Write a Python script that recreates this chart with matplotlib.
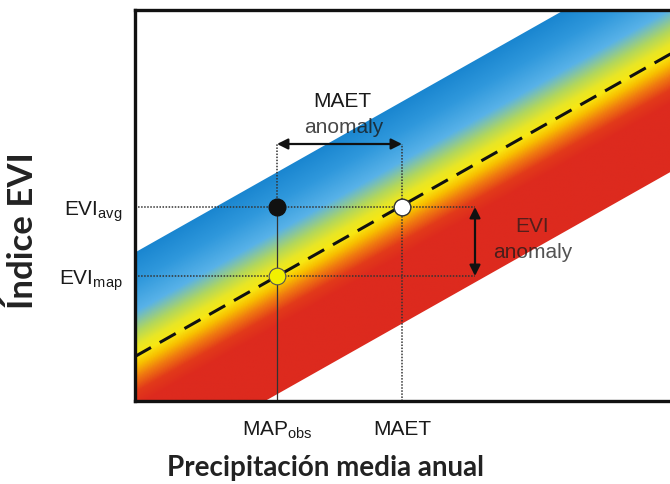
import numpy as np
import matplotlib.pyplot as plt
from matplotlib.colors import LinearSegmentedColormap
from matplotlib.patches import Polygon

# =====================================
# Datos del esquema (unidades arbitrarias del gráfico)
# =====================================

x_max, y_max = 565, 391

pendiente = 0.565
intercepto_medio = 44.5        # recta MAET (línea discontinua)
desplaz_superior = 104         # borde superior de la banda
desplaz_inferior = -118        # borde inferior de la banda

map_obs = 142
maet = 267
evi_avg = 194
evi_map = 125

nivel_flecha_maet = 257
x_flecha_evi = 340

x_ticks = [map_obs, maet]
x_tick_labels = [r'$\mathregular{MAP_{obs}}$', 'MAET']
y_ticks = [evi_map, evi_avg]
y_tick_labels = [r'$\mathregular{EVI_{map}}$', r'$\mathregular{EVI_{avg}}$']

# gradiente perpendicular a la banda: distancia vertical a la recta media
grad_dist = [104, 75, 45, 24, 10, 0, -10, -22, -36, -50, -118]
grad_col = ['#1a86d0', '#2f98dc', '#58b2e8', '#b2d75c', '#e8e626', '#f8e812',
            '#f8c000', '#f07a10', '#e23a1a', '#dd2a1e', '#dd2a1e']

plt.rcParams['font.family'] = ['Liberation Sans', 'DejaVu Sans']

fig = plt.figure(figsize=(6.7, 4.85), dpi=100)
ax = fig.add_axes([135 / 670, (485 - 402) / 485, (700 - 135) / 670, 391 / 485])
ax.set_xlim(0, x_max)
ax.set_ylim(0, y_max)

# --- banda con degradado ---
d_min, d_max = grad_dist[-1], grad_dist[0]
pos = [(d - d_min) / (d_max - d_min) for d in grad_dist]
cmap = LinearSegmentedColormap.from_list('banda', sorted(zip(pos, grad_col)))

xx, yy = np.meshgrid(np.linspace(0, x_max, 600), np.linspace(0, y_max, 420))
dist = yy - (intercepto_medio + pendiente * xx)
img = ax.imshow((dist - d_min) / (d_max - d_min), cmap=cmap, vmin=0, vmax=1,
                extent=[0, x_max, 0, y_max], origin='lower', aspect='auto',
                interpolation='bilinear', zorder=1)

xs = np.array([0, x_max])
sup = intercepto_medio + desplaz_superior + pendiente * xs
inf = intercepto_medio + desplaz_inferior + pendiente * xs
banda = Polygon([(xs[0], sup[0]), (xs[1], sup[1]), (xs[1], inf[1]), (xs[0], inf[0])],
                closed=True, transform=ax.transData)
img.set_clip_path(banda)

# línea discontinua (relación media)
ax.plot(xs, intercepto_medio + pendiente * xs, color='#111111', lw=2.2,
        linestyle=(0, (6, 3.3)), zorder=3)

# --- líneas guía ---
guia = dict(color='#333333', lw=1.1, linestyle=(0, (1, 1)), zorder=2)
ax.plot([0, x_flecha_evi], [evi_avg, evi_avg], **guia)
ax.plot([0, x_flecha_evi], [evi_map, evi_map], **guia)
ax.plot([maet, maet], [0, nivel_flecha_maet], **guia)
ax.plot([map_obs, map_obs], [evi_avg, nivel_flecha_maet], **guia)
ax.plot([map_obs, map_obs], [0, evi_avg], color='#333333', lw=0.9, zorder=2)

# flechas de anomalía
ax.annotate('', xy=(map_obs, nivel_flecha_maet), xytext=(maet, nivel_flecha_maet),
            arrowprops=dict(arrowstyle='<|-|>', color='#111111', lw=1.6,
                            mutation_scale=16, shrinkA=0, shrinkB=0), zorder=4)
ax.annotate('', xy=(x_flecha_evi, evi_avg), xytext=(x_flecha_evi, evi_map),
            arrowprops=dict(arrowstyle='<|-|>', color='#111111', lw=1.6,
                            mutation_scale=16, shrinkA=0, shrinkB=0), zorder=4)

# puntos
ax.plot(map_obs, evi_avg, 'o', ms=12, color='#111111', zorder=5)
ax.plot(maet, evi_avg, 'o', ms=12, mfc='white', mec='#333333', mew=1, zorder=5)
ax.plot(map_obs, evi_map, 'o', ms=12, mfc='#f2f000', mec='#555555', mew=0.8, zorder=5)

# textos
ax.text(207, 300, 'MAET', ha='center', va='center', fontsize=15,
        color='#1a1a1a', zorder=6)
ax.text(209, 274, 'anomaly', ha='center', va='center', fontsize=15,
        color='#1a1a1a', alpha=0.8, zorder=6)
ax.text(397, 175, 'EVI', ha='center', va='center', fontsize=15,
        color='#1a1a1a', alpha=0.7, zorder=6)
ax.text(398, 149, 'anomaly', ha='center', va='center', fontsize=15,
        color='#1a1a1a', alpha=0.75, zorder=6)

# ejes
ax.set_xticks(x_ticks, x_tick_labels)
ax.set_yticks(y_ticks, y_tick_labels)
ax.tick_params(length=0, labelsize=15, labelcolor='#1a1a1a')
ax.tick_params(axis='x', pad=13)
ax.tick_params(axis='y', pad=9)
for s in ax.spines.values():
    s.set_linewidth(2.4)
    s.set_color('#111111')

ax.set_xlabel('Precipitación media anual', fontsize=20, fontweight='bold',
              family=['Lato', 'DejaVu Sans'], color='#222222')
ax.set_ylabel('Índice EVI', fontsize=25, fontweight='bold',
              family=['Lato', 'DejaVu Sans'], color='#222222')
ax.xaxis.set_label_coords((326 - 135) / 565, -(468 - 402) / 391)
ax.yaxis.set_label_coords((23 - 135) / 565, (402 - 231) / 391)
ax.xaxis.label.set_va('center')
ax.yaxis.label.set_va('center')

fig.savefig('out.png', dpi=100)
